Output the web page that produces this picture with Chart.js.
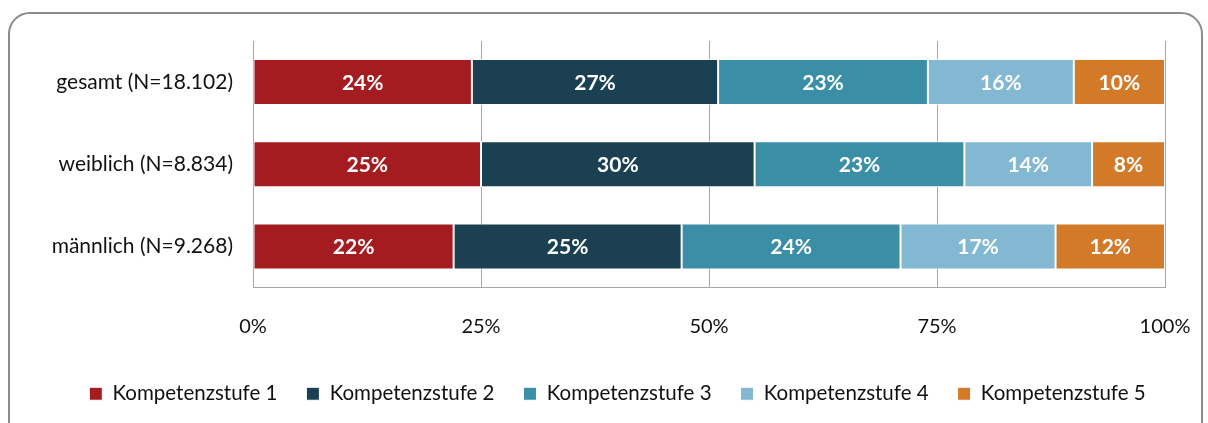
<!DOCTYPE html>
<html>
<head>
<meta charset="utf-8">
<script src="https://cdn.jsdelivr.net/npm/chart.js@4"></script>
<style>
  html, body { margin: 0; padding: 0; background: #fff; overflow: hidden; }
  #wrap { position: relative; width: 1208px; height: 423px; }
  #frame {
    position: absolute; left: 8px; top: 12px; width: 1195px; height: 440px;
    border: 2px solid #8c8c8c; border-radius: 22px; box-sizing: border-box;
  }
  canvas { position: absolute; left: 0; top: 0; }
</style>
</head>
<body>
<div id="wrap">
  <div id="frame"></div>
  <canvas id="chart" width="1208" height="423"></canvas>
</div>
<script>
const categories = ["gesamt (N=18.102)", "weiblich (N=8.834)", "männlich (N=9.268)"];
const stufe1 = [24, 25, 22];
const stufe2 = [27, 30, 25];
const stufe3 = [23, 23, 24];
const stufe4 = [16, 14, 17];
const stufe5 = [10, 8, 12];
const seriesNames = ["Kompetenzstufe 1", "Kompetenzstufe 2", "Kompetenzstufe 3", "Kompetenzstufe 4", "Kompetenzstufe 5"];
const colors = ["#a51c20", "#1a4052", "#3a8ea6", "#82b8d1", "#d27a27"];

const FONT = "Lato, 'Open Sans', sans-serif";

const barLabels = {
  id: "barLabels",
  afterDatasetsDraw(chart) {
    const ctx = chart.ctx;
    ctx.save();
    ctx.fillStyle = "#ffffff";
    ctx.font = "bold 21px " + FONT;
    ctx.textAlign = "center";
    ctx.textBaseline = "middle";
    chart.data.datasets.forEach((ds, i) => {
      chart.getDatasetMeta(i).data.forEach((bar, j) => {
        const p = bar.getProps(["x", "y", "base"], true);
        ctx.fillText(ds.data[j] + "%", (p.x + p.base) / 2, p.y + 1);
      });
    });
    ctx.restore();
  }
};

// legend sits a bit right of the canvas centre in the original
const legendShift = {
  id: "legendShift",
  afterLayout(chart) {
    chart.legend.left += 30;
    chart.legend.right += 30;
  }
};

const datasets = [stufe1, stufe2, stufe3, stufe4, stufe5].map((d, i) => ({
  label: seriesNames[i],
  data: d,
  backgroundColor: colors[i],
  borderColor: "#ffffff",
  borderWidth: 1,
  borderSkipped: false,
  barPercentage: 0.56,
  categoryPercentage: 1
}));

new Chart(document.getElementById("chart"), {
  type: "bar",
  data: { labels: categories, datasets: datasets },
  plugins: [barLabels, legendShift],
  options: {
    indexAxis: "y",
    responsive: false,
    animation: false,
    layout: { padding: { left: 10, right: 43, top: 41, bottom: 9 } },
    plugins: {
      tooltip: { enabled: false },
      legend: {
        position: "bottom",
        labels: {
          font: { family: FONT, size: 20.5 },
          color: "#111",
          boxWidth: 13,
          boxHeight: 13,
          padding: 29
        }
      }
    },
    scales: {
      x: {
        stacked: true,
        min: 0,
        max: 100,
        ticks: {
          stepSize: 25,
          padding: 0,
          color: "#111",
          font: { family: FONT, size: 20 },
          callback: (v) => v + "%"
        },
        grid: { color: "#a6a6a6", drawTicks: true, tickLength: 27, tickColor: "rgba(0,0,0,0)", lineWidth: 1 },
        border: { color: "#a6a6a6" },
        afterFit: (scale) => { scale.height = 67; }
      },
      y: {
        stacked: true,
        ticks: {
          padding: 20,
          color: "#111",
          font: { family: FONT, size: 21 }
        },
        grid: { display: false, drawTicks: false },
        border: { color: "#a6a6a6" },
        afterFit: (scale) => { scale.width = 243; }
      }
    }
  }
});
</script>
</body>
</html>
